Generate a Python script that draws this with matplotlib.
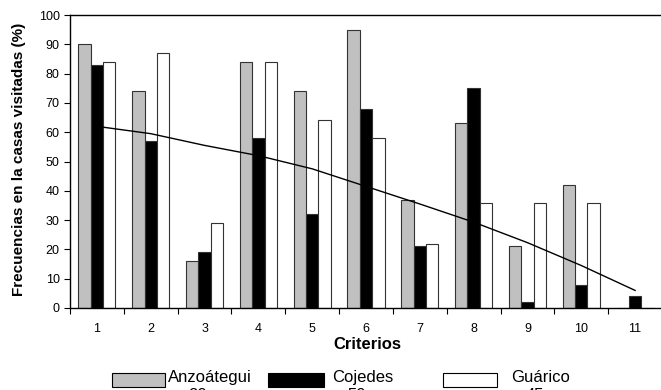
import matplotlib
matplotlib.use("Agg")
import matplotlib.pyplot as plt
from matplotlib.patches import Rectangle
import numpy as np

# values
criterios = list(range(1, 12))
anzoategui = [90, 74, 16, 84, 74, 95, 37, 63, 21, 42, 0]
cojedes = [83, 57, 19, 58, 32, 68, 21, 75, 2, 8, 4]
guarico = [84, 87, 29, 84, 64, 58, 22, 36, 36, 36, 0]
tendencia = [62, 59.5, 55.5, 52, 47.5, 41.5, 35.5, 29.3, 22.3, 14.5, 6]
series_names = ["Anzoátegui", "Cojedes", "Guárico"]
series_n = ["20", "50", "45"]
series_colors = ["#c0c0c0", "#000000", "#ffffff"]

W, H = 661, 390
plt.rcParams['font.family'] = ['Liberation Sans', 'DejaVu Sans']


def fx(x):
    return x / W


def fy(y):
    return 1 - y / H


fig = plt.figure(figsize=(W / 100, H / 100), dpi=100)
ax = fig.add_axes([fx(70), fy(308), (662 - 70) / W, (308 - 15) / H])

x = np.array(criterios)
width = 0.23
for i, vals in enumerate([anzoategui, cojedes, guarico]):
    ax.bar(x + (i - 1) * width, vals, width, color=series_colors[i],
           edgecolor="#333333", linewidth=0.8, zorder=2)

ax.plot(x, tendencia, color="black", linewidth=1.0, zorder=3)

ax.set_xlim(0.5, 11.5)
ax.set_ylim(0, 100)
ax.set_yticks(range(0, 101, 10))
ax.set_xticks(np.arange(0.5, 11.6, 1))
ax.set_xticklabels([])
ax.set_xticks(x, minor=True)
ax.set_xticklabels([str(c) for c in criterios], minor=True)
ax.tick_params(axis="x", which="major", direction="out", length=4, width=0.8)
ax.tick_params(axis="x", which="minor", length=0, pad=11, labelsize=9)
ax.tick_params(axis="y", direction="out", length=4, width=0.8, labelsize=9)
for s in ax.spines.values():
    s.set_linewidth(1.0)

fig.text(fx(19), fy(159), "Frecuencias en la casas visitadas (%)", fontsize=11,
         fontweight="bold", rotation=90, ha="center", va="center")
fig.text(fx(367), fy(349), "Criterios", fontsize=12, fontweight="bold",
         ha="center", va="baseline")

# legend at the bottom, partly cut off like the reference
boxes = [(112, 165), (268, 324), (443, 497)]
text_x = [168, 332, 511]
num_x = [197, 357, 535]
for i in range(3):
    x0, x1 = boxes[i]
    fig.add_artist(Rectangle((fx(x0), fy(387)), (x1 - x0) / W, 14 / H,
                             transform=fig.transFigure, facecolor=series_colors[i],
                             edgecolor="black", linewidth=0.8))
    fig.text(fx(text_x[i]), fy(382), series_names[i], fontsize=12,
             ha="left", va="baseline")
    fig.text(fx(num_x[i]), fy(388), series_n[i], fontsize=12,
             ha="center", va="top")

fig.savefig("out.png", dpi=100)
